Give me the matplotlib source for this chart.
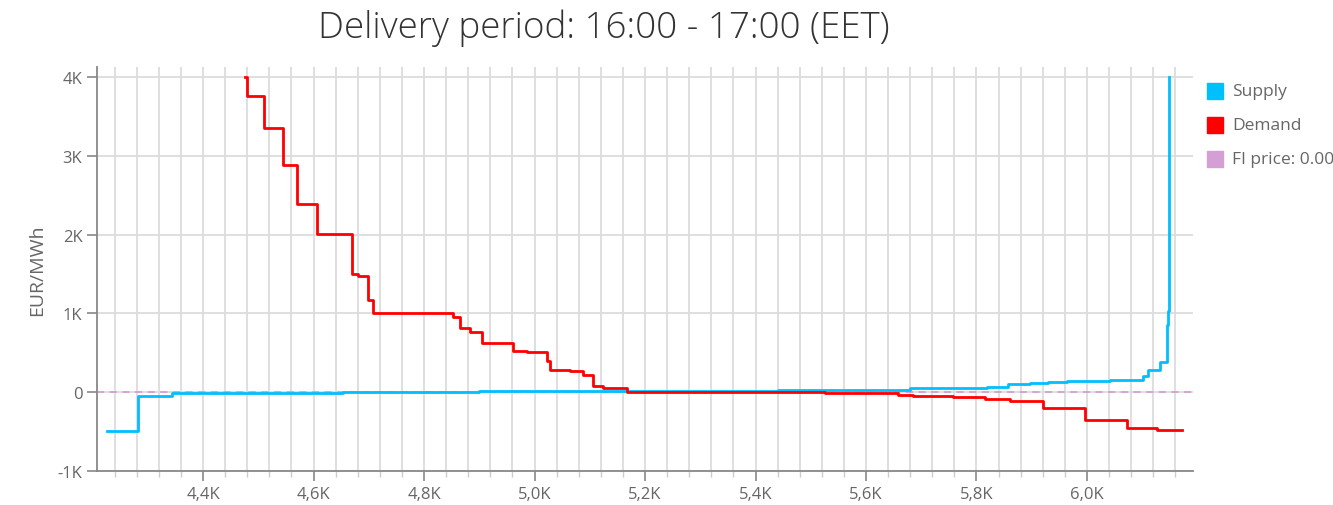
import matplotlib.pyplot as plt
from matplotlib.patches import Rectangle
from matplotlib.ticker import FuncFormatter, MultipleLocator

# Supply curve: (volume MW, price EUR/MWh), drawn as steps
supply_x = [4226, 4282, 4344, 4653, 4900, 5440, 5680, 5819, 5857, 5897,
            5929, 5964, 6041, 6101, 6110, 6132, 6145, 6146, 6148, 6149]
supply_y = [-490, -50, -10, 5, 10, 25, 50, 70, 100, 115,
            130, 140, 150, 200, 280, 390, 850, 1030, 1030, 4000]

# Demand curve
demand_x = [4476, 4480, 4510, 4545, 4570, 4606, 4670, 4680, 4698, 4708,
            4853, 4865, 4883, 4905, 4961, 4986, 5022, 5028, 5064, 5088,
            5106, 5124, 5167, 5526, 5658, 5685, 5757, 5815, 5861, 5920,
            5996, 6072, 6127, 6172]
demand_y = [4000, 3760, 3350, 2890, 2390, 2010, 1500, 1470, 1170, 1000,
            950, 810, 770, 630, 530, 505, 400, 280, 265, 215,
            75, 50, 5, -15, -40, -50, -65, -85, -110, -200,
            -350, -460, -480, -480]

fi_price = 0.00

SUPPLY_COLOR = "#00bfff"
DEMAND_COLOR = "#ff0000"
FI_COLOR = "#d4a0d4"
TEXT_COLOR = "#666666"

plt.rcParams["font.family"] = ["Open Sans", "DejaVu Sans"]

fig = plt.figure(figsize=(13.33, 5.06), dpi=100)
ax = fig.add_axes([0.0728, 0.0672, 0.8222, 0.7984])

ax.axhline(fi_price, color=FI_COLOR, lw=1.3, ls=(0, (4, 3)), zorder=2)
ax.step(supply_x, supply_y, where="post", color=SUPPLY_COLOR, lw=2, zorder=3)
ax.step(demand_x, demand_y, where="post", color=DEMAND_COLOR, lw=2, zorder=4)

ax.set_xlim(4208, 6192)
ax.set_ylim(-1000, 4130)

ax.xaxis.set_major_locator(MultipleLocator(200))
ax.xaxis.set_minor_locator(MultipleLocator(40))
ax.yaxis.set_major_locator(MultipleLocator(1000))


def kfmt_x(v, pos):
    return f"{v / 1000:.1f}K".replace(".", ",")


def kfmt_y(v, pos):
    if abs(v) < 1e-9:
        return "0"
    return f"{v / 1000:.0f}K"


ax.xaxis.set_major_formatter(FuncFormatter(kfmt_x))
ax.yaxis.set_major_formatter(FuncFormatter(kfmt_y))

ax.grid(True, which="both", axis="x", color="#dcdcdc", lw=1.3)
ax.grid(True, which="major", axis="y", color="#dcdcdc", lw=1.3)
ax.set_axisbelow(True)

for side in ["top", "right"]:
    ax.spines[side].set_visible(False)
for side in ["left", "bottom"]:
    ax.spines[side].set_color("#888888")
    ax.spines[side].set_linewidth(1.3)

ax.tick_params(axis="both", which="major", length=7, color="#888888",
               labelcolor=TEXT_COLOR, labelsize=12, width=1.2)
ax.tick_params(axis="x", which="minor", length=4, color="#cccccc", width=1)
ax.tick_params(axis="x", which="major", pad=4)

ax.set_ylabel("EUR/MWh", color=TEXT_COLOR, fontsize=14, labelpad=8)

fig.text(0.453, 0.945, "Delivery period: 16:00 - 17:00 (EET)", ha="center",
         va="center", fontsize=26.5, color="#333333", fontweight="light")

# legend
labels = ["Supply", "Demand", f"FI price: {fi_price:.2f}"]
colors = [SUPPLY_COLOR, DEMAND_COLOR, FI_COLOR]
for i, (lab, col) in enumerate(zip(labels, colors)):
    yc = 92 + 34 * i
    fig.add_artist(Rectangle((1207 / 1333, 1 - (yc + 8) / 506), 16 / 1333, 16 / 506,
                             transform=fig.transFigure, color=col))
    fig.text(1232 / 1333, 1 - yc / 506, lab, ha="left", va="center",
             fontsize=12.5, color=TEXT_COLOR)

fig.savefig("out.png", dpi=100)
